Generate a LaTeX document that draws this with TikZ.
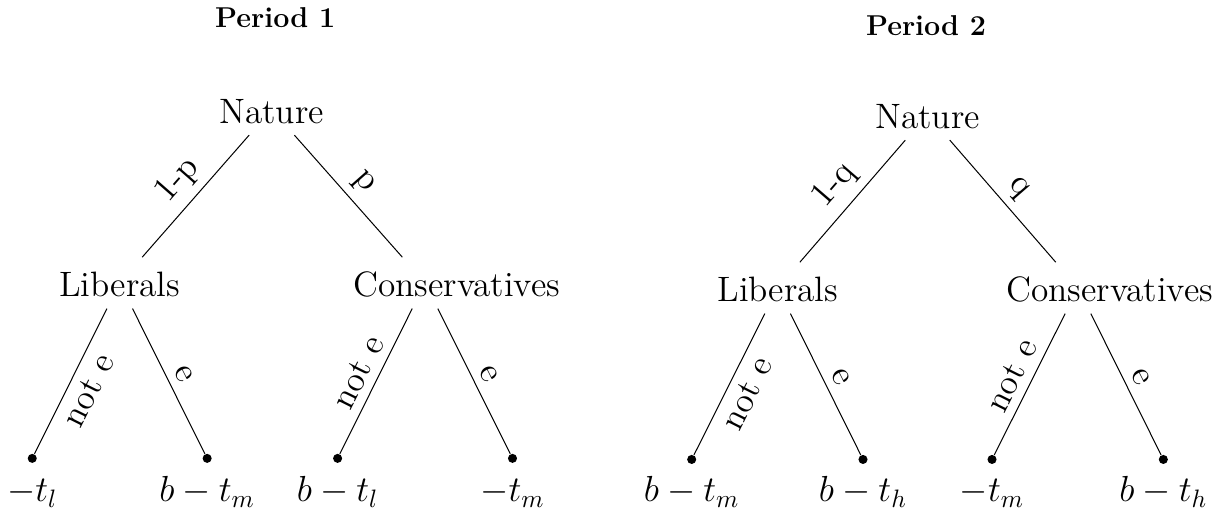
\documentclass[tikz,border=0pt]{standalone}
\usepackage{tikz}

\begin{document}
\begin{tikzpicture}[
    x=1cm, y=1cm, font=\fontsize{14}{17}\selectfont,
    ttl/.style={font=\fontsize{11.4}{14}\selectfont\bfseries, anchor=base},
    player/.style={text width=2cm, align=center, text height=11pt,
                   text depth=0pt, inner sep=4.5pt, anchor=base},
    leaf/.style={circle, fill=black, inner sep=0pt, minimum size=3.6pt},
    pay/.style={anchor=base, inner sep=2pt},
    lbl/.style={sloped, inner sep=3.3pt},
]
\useasboundingbox (0,0) rectangle (17.16,7.13);

% ===================== Period 1 =====================
\node[ttl] (title1) at (3.84,6.75) {Period 1};

\node[player] (nat1) at (3.79,5.41) {Nature};
\node[player] (lib1) at (1.67,2.99) {Liberals};
\node[player] (cons1) at (5.93,2.99) {\mbox{Conservatives}};

\node[leaf] (l11) at (0.45,0.735) {};
\node[leaf] (l12) at (2.89,0.735) {};
\node[leaf] (l13) at (4.71,0.735) {};
\node[leaf] (l14) at (7.15,0.735) {};

\draw (nat1) -- node[lbl, above] {1-p} (lib1);
\draw (nat1) -- node[lbl, above] {p} (cons1);
\draw (lib1) -- node[lbl, below] {not e} (l11);
\draw (lib1) -- node[lbl, above] {e} (l12);
\draw (cons1) -- node[lbl, above] {not e} (l13);
\draw (cons1) -- node[lbl, above] {e} (l14);

\node[pay] (p11) at (0.45,0.13) {$-t_l$};
\node[pay] (p12) at (2.89,0.13) {$b-t_m$};
\node[pay] (p13) at (4.71,0.13) {$b-t_l$};
\node[pay] (p14) at (7.15,0.13) {$-t_m$};

% ===================== Period 2 =====================
\node[ttl] (title2) at (12.92,6.64) {Period 2};

\node[player] (nat2) at (12.94,5.34) {Nature};
\node[player] (lib2) at (10.85,2.92) {Liberals};
\node[player] (cons2) at (15.04,2.92) {\mbox{Conservatives}};

\node[leaf] (l21) at (9.65,0.72) {};
\node[leaf] (l22) at (12.04,0.72) {};
\node[leaf] (l23) at (13.84,0.72) {};
\node[leaf] (l24) at (16.23,0.72) {};

\draw (nat2) -- node[lbl, above] {1-q} (lib2);
\draw (nat2) -- node[lbl, above] {q} (cons2);
\draw (lib2) -- node[lbl, below] {not e} (l21);
\draw (lib2) -- node[lbl, above] {e} (l22);
\draw (cons2) -- node[lbl, above] {not e} (l23);
\draw (cons2) -- node[lbl, above] {e} (l24);

\node[pay] (p21) at (9.65,0.13) {$b-t_m$};
\node[pay] (p22) at (12.04,0.13) {$b-t_h$};
\node[pay] (p23) at (13.84,0.13) {$-t_m$};
\node[pay] (p24) at (16.23,0.13) {$b-t_h$};

\end{tikzpicture}
\end{document}
